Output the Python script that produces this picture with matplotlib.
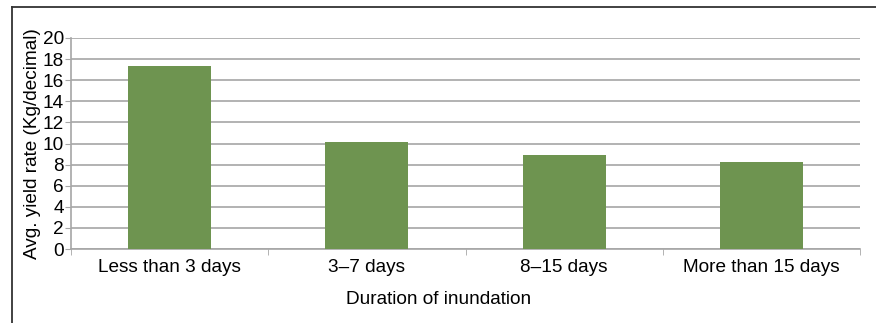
import numpy as np
from matplotlib import pyplot as plt
from matplotlib.lines import Line2D

categories = ['Less than 3 days', '3\u20137 days', '8\u201315 days', 'More than 15 days']
yieldRate = [17.3, 10.1, 8.9, 8.25]

plt.rcParams['font.family'] = ['Liberation Sans', 'DejaVu Sans']
fs = 13.7

fig = plt.figure(figsize=(8.76, 3.23), dpi=100)
ax = fig.add_axes([71 / 876, 1 - 249 / 323, (860 - 71) / 876, (249 - 38) / 323])

x = np.arange(len(categories))
ax.bar(x, yieldRate, width=0.42, color='#6e9450', zorder=3)

ax.set_xlim(-0.5, len(categories) - 0.5)
ax.set_ylim(0, 20)
ax.set_yticks(np.arange(0, 21, 2))
ax.yaxis.grid(True, color='#a6a6a6', linewidth=1.2, zorder=0)
ax.set_xticks(x)
ax.set_xticklabels(categories)
ax.set_xticks(np.arange(-0.5, len(categories)), minor=True)
ax.tick_params(axis='x', which='major', length=0, labelsize=fs, pad=7)
ax.tick_params(axis='x', which='minor', length=4, color='#a6a6a6', direction='out')
ax.tick_params(axis='y', length=4, color='#a6a6a6', labelsize=fs, pad=1)

for s in ['top', 'right']:
    ax.spines[s].set_visible(False)
for s in ['left', 'bottom']:
    ax.spines[s].set_color('#a6a6a6')
    ax.spines[s].set_linewidth(1.2)

ax.set_ylabel('Avg. yield rate (Kg/decimal)', fontsize=fs, labelpad=1)
ax.set_xlabel('Duration of inundation', fontsize=fs)
ax.xaxis.set_label_coords((439 - 71) / 789, -(300 - 249) / 211, transform=ax.transAxes)
ax.xaxis.label.set_va('center')

# outer frame (top and left edges)
fig.add_artist(Line2D([12 / 876, 1], [1 - 7 / 323, 1 - 7 / 323], color='#333333', linewidth=1.3,
                      transform=fig.transFigure))
fig.add_artist(Line2D([12 / 876, 12 / 876], [0, 1 - 7 / 323], color='#333333', linewidth=1.3,
                      transform=fig.transFigure))

plt.savefig('out.png', dpi=100)
